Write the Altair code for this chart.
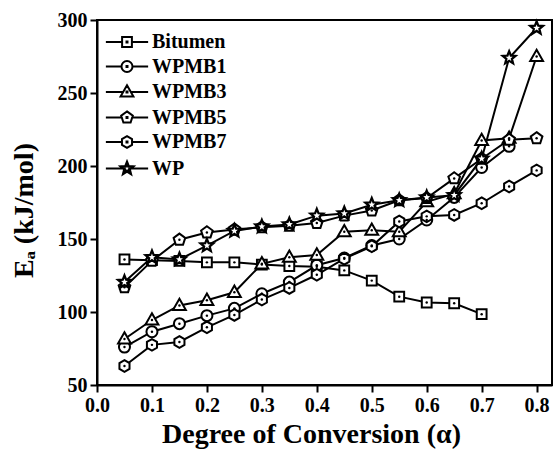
import math
import altair as alt
import pandas as pd

# ---------------- data ----------------
alpha = [0.05, 0.10, 0.15, 0.20, 0.25, 0.30, 0.35, 0.40,
         0.45, 0.50, 0.55, 0.60, 0.65, 0.70, 0.75, 0.80]
series_names = ["Bitumen", "WPMB1", "WPMB3", "WPMB5", "WPMB7", "WP"]

bitumen = [136, 135.5, 135, 134, 134, 132.5, 131.5, 131, 128.5, 121.5, 110.5, 106.5, 106, 98.5]
wpmb1 = [76, 86.5, 92, 97.5, 102.5, 112.5, 120.5, 132, 137, 145.5, 150, 163, 178.5, 199, 213.5]
wpmb3 = [81.5, 94.5, 104.5, 108, 113.5, 133, 137.5, 139, 155, 156, 155, 175.5, 181, 217.5, 219, 275]
wpmb5 = [117, 135, 149.5, 154.5, 156.5, 158, 159, 161, 166, 169.5, 176.5, 178, 191.5, 205, 218, 219]
wpmb7 = [63, 77.5, 79.5, 89.5, 98, 108.5, 116.5, 125.5, 136.5, 145, 162, 165.5, 166.5, 174.5, 186, 197]
wp = [120.5, 137.5, 136, 145.5, 155.5, 158.5, 160, 166, 167.5, 173.5, 176.5, 178.5, 180, 205, 274, 294.5]

x_ticks = [round(i * 0.05, 2) for i in range(17)]
y_ticks = [50 + 25 * i for i in range(11)]

values = [bitumen, wpmb1, wpmb3, wpmb5, wpmb7, wp]
rows = []
for name, vals in zip(series_names, values):
    for a, v in zip(alpha, vals):
        rows.append({"series": name, "alpha": a, "Ea": v})
df = pd.DataFrame(rows)

# ---------------- marker shapes (style) ----------------
def poly(pts):
    return "M" + "L".join(f"{x:.3f},{y:.3f}" for x, y in pts) + "Z"

def star_pts(ro, ri):
    pts = []
    for k in range(10):
        r = ro if k % 2 == 0 else ri
        ang = math.radians(-90 + 36 * k)
        pts.append((r * math.cos(ang), r * math.sin(ang)))
    return pts

sq = poly([(-0.8, -0.8), (0.8, -0.8), (0.8, 0.8), (-0.8, 0.8)])
circ = "M0.9,0A0.9,0.9,0,1,1,-0.9,0A0.9,0.9,0,1,1,0.9,0Z"
tri = poly([(0, -1.1), (1.05, 0.75), (-1.05, 0.75)])
pent = poly([(math.cos(math.radians(-90 + 72 * k)), math.sin(math.radians(-90 + 72 * k))) for k in range(5)])
hexa = poly([(0.95 * math.cos(math.radians(-90 + 60 * k)), 0.95 * math.sin(math.radians(-90 + 60 * k))) for k in range(6)])
star = poly(star_pts(1.15, 0.5))
star_dark = star + poly(star_pts(0.75, 0.33))
center_dot = poly([(-0.08, -0.08), (0.08, -0.08), (0.08, 0.08), (-0.08, 0.08)])
shapes = [sq, circ, tri, pent, hexa, star]
legend_base = [p + center_dot for p in [sq, circ, tri, pent, hexa]] + [star_dark]
edges = [0.8, 0.9, 0.65, 0.85, 0.85, 0.55]

def with_line(path, e, L=3.45):
    return path + f"M{-L},0L{-e},0M{e},0L{L},0"

legend_shapes = [with_line(p, e) for p, e in zip(legend_base, edges)]

FONT = "Liberation Serif"

xscale = alt.Scale(domain=[0, 0.828], nice=False, zero=False)
yscale = alt.Scale(domain=[50, 300], nice=False, zero=False)

major_x = "abs(datum.value*10 - round(datum.value*10)) < 0.000001"
xaxis = alt.Axis(
    values=x_ticks,
    labelExpr=f"{major_x} ? format(datum.value, '.1f') : ''",
    tickSize={"condition": {"test": major_x, "value": 7}, "value": 4},
    title="Degree of Conversion (α)",
    titleX=214, titleY=57, titleBaseline="alphabetic", titleAlign="center",
    labelPadding=3, labelFlush=False, labelOverlap=False,
)
yaxis = alt.Axis(
    values=y_ticks,
    labelExpr="datum.value % 50 === 0 ? datum.value : ''",
    tickSize={"condition": {"test": "datum.value % 50 === 0", "value": 7}, "value": 4},
    title="Eₐ (kJ/mol)",
    titleX=-65, titleY=190, titleBaseline="alphabetic", titleAlign="center", titleAngle=-90,
    labelPadding=3, labelFlush=False, labelOverlap=False,
)

base = alt.Chart(df)

lines = base.mark_line(color="black", strokeWidth=2).encode(
    x=alt.X("alpha:Q", scale=xscale, axis=xaxis),
    y=alt.Y("Ea:Q", scale=yscale, axis=yaxis),
    detail="series:N",
)

points = base.mark_point(size=150, stroke="black", strokeWidth=2, opacity=1).encode(
    x="alpha:Q",
    y="Ea:Q",
    shape=alt.Shape("series:N", scale=alt.Scale(domain=series_names, range=shapes), legend=None),
    fill=alt.condition("datum.series === 'WP'", alt.value("black"), alt.value("white")),
)

# empty proxy layer that only supplies the legend (line + marker glyphs)
legend_layer = base.transform_filter("false").mark_point(
    size=150, stroke="black", fill="white", strokeWidth=2, opacity=1, filled=False
).encode(
    x="alpha:Q",
    y="Ea:Q",
    shape=alt.Shape(
        "series:N",
        scale=alt.Scale(domain=series_names, range=legend_shapes),
        sort=series_names,
        legend=alt.Legend(
            title=None, orient="none", legendX=20, legendY=12,
            labelFont=FONT, labelFontSize=20, labelFontWeight="bold", labelColor="black",
            symbolSize=150, symbolStrokeWidth=2,
            labelOffset=15, rowPadding=4.5, padding=0,
        ),
    ),
)

dots = base.transform_filter("datum.series !== 'WP'").mark_point(
    shape="circle", size=6, filled=True, color="black", opacity=1
).encode(x="alpha:Q", y="Ea:Q")

star_dots = base.transform_filter("datum.series === 'WP'").mark_point(
    shape=star, size=40, filled=True, color="white", opacity=1
).encode(x="alpha:Q", y="Ea:Q")

chart = alt.layer(lines, points, dots, star_dots, legend_layer).resolve_scale(
    shape="independent"
).properties(
    width=455, height=365,
    background="white",
    autosize=alt.AutoSizeParams(type="none"),
    padding={"left": 97, "top": 20, "right": 3, "bottom": 68},
).configure_view(
    stroke="black", strokeWidth=2
).configure_axis(
    grid=False, domainColor="black", domainWidth=2, tickColor="black", tickWidth=2,
    labelFont=FONT, labelFontSize=20, labelFontWeight="bold", labelColor="black",
    titleFont=FONT, titleFontSize=28, titleFontWeight="bold", titleColor="black",
)

chart.save("out.html", embed_options={"renderer": "svg", "actions": False})
